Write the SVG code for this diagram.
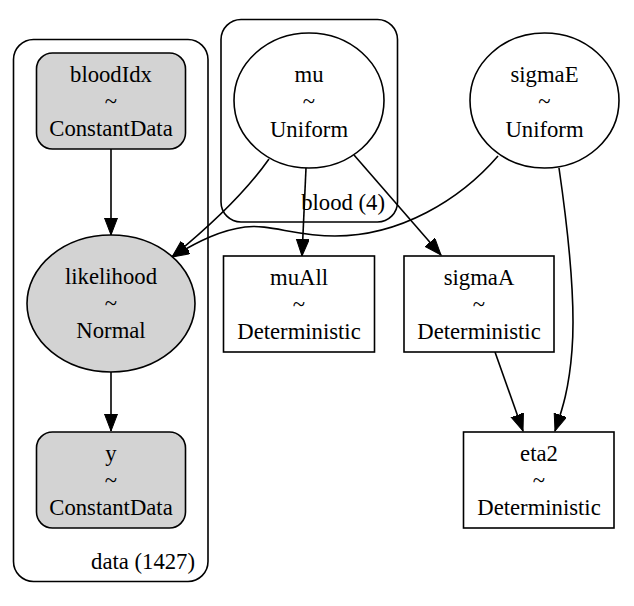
<svg xmlns="http://www.w3.org/2000/svg" width="634" height="606" viewBox="0 0 634 606" font-family="'Liberation Serif', 'Times New Roman', 'DejaVu Serif', serif">
<style>
  .cluster { fill: none; stroke: #000; stroke-width: 1.6; }
  .node { stroke: #000; stroke-width: 1.6; }
  .obs { fill: #d3d3d3; }
  .free { fill: #fff; }
  .edge { fill: none; stroke: #000; stroke-width: 1.6; marker-end: url(#arrow); }
  text { font-family: 'Liberation Serif', 'Times New Roman', 'DejaVu Serif', serif; font-size: 22.7px; fill: #000; text-anchor: middle; }
  .clabel { text-anchor: end; }
</style>
<defs>
  <marker id="arrow" markerUnits="userSpaceOnUse" markerWidth="18" markerHeight="14" refX="17" refY="6.5" orient="auto">
    <path d="M0,0 L17,6.5 L0,13 Z" fill="#000" stroke="#000" stroke-width="1"/>
  </marker>
</defs>
<rect x="0" y="0" width="634" height="606" fill="#fff"/>

<g id="cluster-data">
  <rect class="cluster" x="13.5" y="39.5" width="194.5" height="542" rx="20" ry="20"/>
  <text class="clabel" x="195" y="569">data (1427)</text>
</g>
<g id="cluster-blood">
  <rect class="cluster" x="221" y="19.5" width="176.5" height="202.5" rx="20" ry="20"/>
  <text class="clabel" x="385" y="210">blood (4)</text>
</g>

<g id="edges">
  <path class="edge" d="M111,149 L111,235"/>
  <path class="edge" d="M111,372 L111,431"/>
  <path class="edge" d="M306,168 L302,256"/>
  <path class="edge" d="M354,155 L441,255"/>
  <path class="edge" d="M269,159 C250,186 215,222 172,257"/>
  <path class="edge" d="M498,156 C460,200 400,236 335,236 C295,236 270,224 245,227 C222,230 200,240 172,257"/>
  <path class="edge" d="M495,352 L523,431"/>
  <path class="edge" d="M559,168 C568,230 576,300 572,350 C569,390 562,410 555,431"/>
</g>

<g id="node-bloodIdx">
  <rect class="node obs" x="36.5" y="53" width="149" height="96" rx="16" ry="16"/>
  <text x="111" y="82">bloodIdx</text>
  <text x="111" y="109">~</text>
  <text x="111" y="136">ConstantData</text>
</g>
<g id="node-likelihood">
  <ellipse class="node obs" cx="111" cy="303.5" rx="84" ry="68.5"/>
  <text x="111" y="284">likelihood</text>
  <text x="111" y="311">~</text>
  <text x="111" y="338">Normal</text>
</g>
<g id="node-y">
  <rect class="node obs" x="36.5" y="432" width="149" height="96" rx="16" ry="16"/>
  <text x="111" y="461">y</text>
  <text x="111" y="488">~</text>
  <text x="111" y="515">ConstantData</text>
</g>
<g id="node-mu">
  <ellipse class="node free" cx="309" cy="100.5" rx="75" ry="67.5"/>
  <text x="309" y="82">mu</text>
  <text x="309" y="109">~</text>
  <text x="309" y="137">Uniform</text>
</g>
<g id="node-sigmaE">
  <ellipse class="node free" cx="544.5" cy="100.5" rx="74.5" ry="67.5"/>
  <text x="544.5" y="82">sigmaE</text>
  <text x="544.5" y="109">~</text>
  <text x="544.5" y="137">Uniform</text>
</g>
<g id="node-muAll">
  <rect class="node free" x="223.5" y="256" width="151" height="96"/>
  <text x="299" y="285">muAll</text>
  <text x="299" y="312">~</text>
  <text x="299" y="339">Deterministic</text>
</g>
<g id="node-sigmaA">
  <rect class="node free" x="404" y="256" width="150" height="96"/>
  <text x="479" y="285">sigmaA</text>
  <text x="479" y="312">~</text>
  <text x="479" y="339">Deterministic</text>
</g>
<g id="node-eta2">
  <rect class="node free" x="463.5" y="432" width="150.5" height="96"/>
  <text x="539" y="461">eta2</text>
  <text x="539" y="488">~</text>
  <text x="539" y="515">Deterministic</text>
</g>
</svg>
